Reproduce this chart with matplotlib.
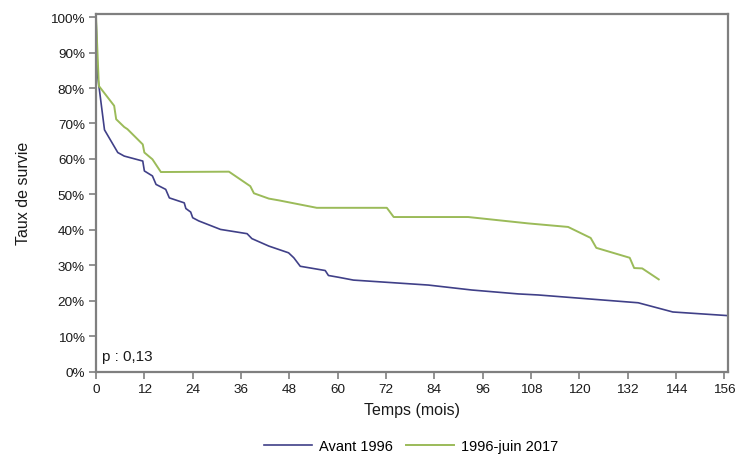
import matplotlib
matplotlib.use("Agg")
import matplotlib.pyplot as plt
from matplotlib.ticker import FuncFormatter

plt.rcParams['font.family'] = ['Liberation Sans', 'DejaVu Sans']

# Data
months_avant = [0, 0.4, 2.1, 5.4, 7.0, 11.6, 12.0, 14.0, 14.9, 17.3, 18.2, 21.9, 22.3, 23.5,
                24.0, 25.5, 30.9, 37.5, 38.7, 42.9, 47.8, 49.1, 50.7, 56.9, 57.7, 60.2,
                63.9, 82.5, 93.3, 104.8, 109.8, 134.6, 143.2, 156.5]
surv_avant = [100, 83.4, 68.2, 61.8, 60.8, 59.4, 56.6, 55.2, 52.8, 51.4, 49.0, 47.6, 46.0, 45.0,
              43.4, 42.5, 40.1, 38.9, 37.5, 35.4, 33.5, 32.1, 29.7, 28.5, 27.1, 26.6,
              25.8, 24.4, 23.0, 21.9, 21.6, 19.4, 16.8, 15.8]

months_apres = [0, 0.7, 4.5, 5.0, 7.0, 7.8, 11.6, 12.0, 14.0, 16.1, 33.0, 38.3, 39.2, 42.9,
                45.4, 54.8, 72.2, 73.9, 92.4, 107.3, 117.2, 122.8, 124.2, 132.5, 133.6,
                135.6, 139.7]
surv_apres = [100, 80.6, 75.0, 71.2, 69.0, 68.4, 64.1, 61.8, 59.9, 56.3, 56.4, 52.3, 50.3, 48.8,
              48.3, 46.2, 46.2, 43.6, 43.6, 41.8, 40.8, 37.7, 34.9, 32.1, 29.2,
              29.1, 26.0]

labels = ["Avant 1996", "1996-juin 2017"]
colors = ["#404088", "#9BBB59"]
x_ticks = list(range(0, 157, 12))
y_ticks = list(range(0, 101, 10))
p_text = "p : 0,13"

fig = plt.figure(figsize=(7.37, 4.60), dpi=100)
ax = fig.add_axes([0.1303, 0.1902, 0.8575, 0.7772])

ax.plot(months_avant, surv_avant, color=colors[0], lw=1.2, label=labels[0])
ax.plot(months_apres, surv_apres, color=colors[1], lw=1.4, label=labels[1])

ax.set_xlim(0, 156.9)
ax.set_ylim(0, 100.9)
ax.set_xticks(x_ticks)
ax.set_yticks(y_ticks)
ax.yaxis.set_major_formatter(FuncFormatter(lambda v, _: f"{int(v)}%"))

for s in ax.spines.values():
    s.set_color("#7f7f7f")
    s.set_linewidth(1.6)
ax.tick_params(direction="out", length=5, width=1.2, color="#7f7f7f",
               labelsize=9.7, labelcolor="#1a1a1a", pad=3)

ax.set_xlabel("Temps (mois)", fontsize=11.5, color="#1a1a1a", labelpad=5)
ax.set_ylabel("Taux de survie", fontsize=11.5, color="#1a1a1a", labelpad=14)

ax.text(0.01, 0.025, p_text, transform=ax.transAxes, fontsize=11, color="#1a1a1a",
        ha="left", va="bottom")

leg = fig.legend(loc="center", bbox_to_anchor=(0.558, 0.028), ncol=2, frameon=False,
                 fontsize=10.5, handlelength=3.3, columnspacing=0.85, handletextpad=0.5)

fig.savefig("out.png", dpi=100)
